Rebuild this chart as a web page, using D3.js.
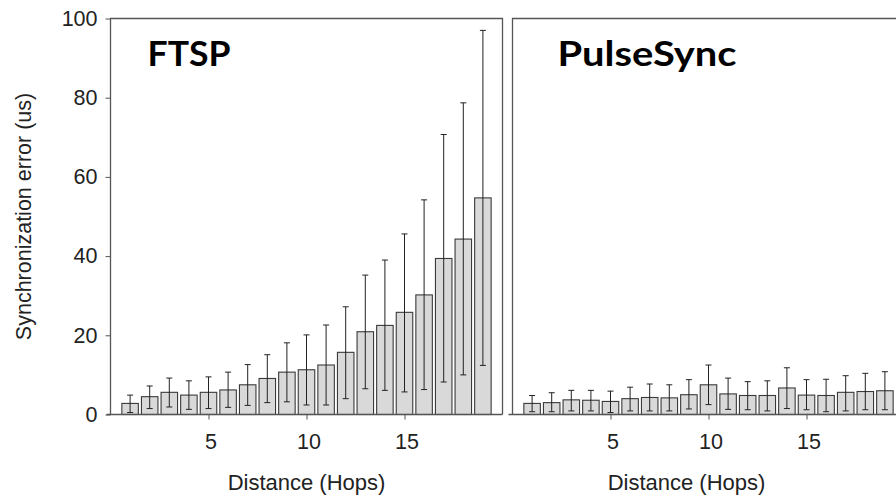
<!DOCTYPE html>
<html>
<head>
<meta charset="utf-8">
<script src="https://cdn.jsdelivr.net/npm/d3@7"></script>
<style>
  body { margin: 0; background: #fff; }
  svg { display: block; font-family: "Liberation Sans", Arial, sans-serif; }
</style>
</head>
<body>
<svg id="chart" width="896" height="498"></svg>
<script>
// hops 1..19
var hops = d3.range(1, 20);

// FTSP mean error and error-bar ends (us)
var ftspMean  = [2.8, 4.5, 5.6, 4.9, 5.6, 6.2, 7.5, 9.1, 10.7, 11.3, 12.5, 15.7, 20.9, 22.5, 25.8, 30.2, 39.4, 44.3, 54.7];
var ftspHigh  = [4.9, 7.2, 9.2, 8.5, 9.5, 10.7, 12.6, 15.1, 18.1, 20.1, 22.6, 27.2, 35.2, 39.0, 45.6, 54.2, 70.7, 78.7, 97.0];
var ftspLow   = [0.5, 1.5, 1.9, 1.3, 1.5, 1.8, 2.3, 3.0, 3.2, 2.4, 2.4, 4.0, 6.5, 6.1, 5.7, 6.3, 8.2, 10.0, 12.4];

// PulseSync
var psMean = [2.8, 3.0, 3.7, 3.6, 3.3, 4.0, 4.3, 4.2, 5.0, 7.5, 5.2, 4.8, 4.8, 6.7, 4.9, 4.8, 5.6, 5.8, 6.0];
var psHigh = [4.8, 5.5, 6.1, 6.1, 5.9, 6.9, 7.7, 7.5, 8.8, 12.5, 9.2, 8.3, 8.5, 11.8, 8.8, 8.9, 9.8, 10.4, 10.8];
var psLow  = [0.7, 0.7, 0.9, 0.9, 0.5, 0.9, 0.9, 0.9, 1.4, 2.5, 1.3, 1.2, 0.9, 1.5, 1.2, 0.7, 0.9, 1.2, 1.2];

var yTicks = [0, 20, 40, 60, 80, 100];
var xTicks = [5, 10, 15];

var svg = d3.select("#chart");

var plotTop = 18.5, plotBottom = 414.5, panelW = 392;

var y = d3.scaleLinear().domain([0, 100]).range([plotBottom, plotTop]);

function drawPanel(left, title, titleLen, means, highs, lows, showY, labelShift) {
    var x = d3.scaleLinear().domain([0, 20]).range([left, left + panelW]);
    var g = svg.append("g");
    var barW = 16.5;

    // frame
    g.append("path")
        .attr("d", "M" + left + "," + plotBottom + "V" + plotTop + "H" + (left + panelW) + "V" + plotBottom)
        .attr("fill", "none")
        .attr("stroke", "#555")
        .attr("stroke-width", 1.3);

    var data = hops.map(function(h, i) {
        return {hop: h, mean: means[i], hi: highs[i], lo: lows[i]};
    });

    // bars
    g.selectAll("rect.bar")
        .data(data)
        .enter().append("rect")
        .attr("class", "bar")
        .attr("x", function(d) { return x(d.hop) - barW / 2; })
        .attr("y", function(d) { return y(d.mean); })
        .attr("width", barW)
        .attr("height", function(d) { return y(0) - y(d.mean); })
        .attr("fill", "#d9d9d9")
        .attr("stroke", "#3a3a3a")
        .attr("stroke-width", 1.1);

    // error bars
    var eb = g.selectAll("g.err")
        .data(data)
        .enter().append("g")
        .attr("class", "err")
        .attr("stroke", "#222")
        .attr("stroke-width", 1);

    eb.append("line")
        .attr("x1", function(d) { return x(d.hop); })
        .attr("x2", function(d) { return x(d.hop); })
        .attr("y1", function(d) { return y(d.lo); })
        .attr("y2", function(d) { return y(d.hi); });
    eb.append("line")
        .attr("x1", function(d) { return x(d.hop) - 3; })
        .attr("x2", function(d) { return x(d.hop) + 3; })
        .attr("y1", function(d) { return y(d.hi); })
        .attr("y2", function(d) { return y(d.hi); });
    eb.append("line")
        .attr("x1", function(d) { return x(d.hop) - 3; })
        .attr("x2", function(d) { return x(d.hop) + 3; })
        .attr("y1", function(d) { return y(d.lo); })
        .attr("y2", function(d) { return y(d.lo); });

    // x axis
    var xAxis = d3.axisBottom(x).tickValues(xTicks).tickSize(5).tickPadding(14).tickSizeOuter(0);
    var xg = g.append("g")
        .attr("transform", "translate(0," + plotBottom + ")")
        .call(xAxis);
    xg.select(".domain").attr("stroke", "#555").attr("stroke-width", 1.3)
        .attr("d", "M" + (left - 4) + ",0H" + (left + panelW));
    xg.selectAll(".tick line").attr("stroke", "#555");
    xg.selectAll(".tick text")
        .attr("dx", 2)
        .attr("fill", "#222")
        .style("font-size", "21.5px")
        .style("font-family", "'Liberation Sans', Arial, sans-serif");

    if (showY) {
        var yAxis = d3.axisLeft(y).tickValues(yTicks).tickSize(5).tickPadding(8).tickSizeOuter(0);
        var yg = g.append("g")
            .attr("transform", "translate(" + left + ",0)")
            .call(yAxis);
        yg.select(".domain").remove();
        yg.selectAll(".tick line").attr("stroke", "#555");
        yg.selectAll(".tick text")
            .attr("fill", "#222")
            .style("font-size", "21.5px")
            .style("font-family", "'Liberation Sans', Arial, sans-serif");

        g.append("text")
            .attr("transform", "translate(31," + ((plotTop + plotBottom) / 2) + ") rotate(-90)")
            .attr("text-anchor", "middle")
            .attr("fill", "#222")
            .style("font-size", "21.5px")
            .text("Synchronization error (us)");
    }

    g.append("text")
        .attr("x", left + panelW / 2 + labelShift)
        .attr("y", 490)
        .attr("text-anchor", "middle")
        .attr("fill", "#222")
        .style("font-size", "22px")
        .text("Distance (Hops)");

    g.append("text")
        .attr("x", left + 37 + (showY ? 0 : 8))
        .attr("y", 66)
        .attr("fill", "#000")
        .attr("textLength", titleLen)
        .attr("lengthAdjust", "spacingAndGlyphs")
        .style("font-family", "Lato, 'Open Sans', sans-serif")
        .style("font-weight", "bold")
        .style("font-size", "35px")
        .text(title);
}

drawPanel(110.5, "FTSP", 83, ftspMean, ftspHigh, ftspLow, true, 0);
drawPanel(512.5, "PulseSync", 179, psMean, psHigh, psLow, false, -22);
</script>
</body>
</html>
